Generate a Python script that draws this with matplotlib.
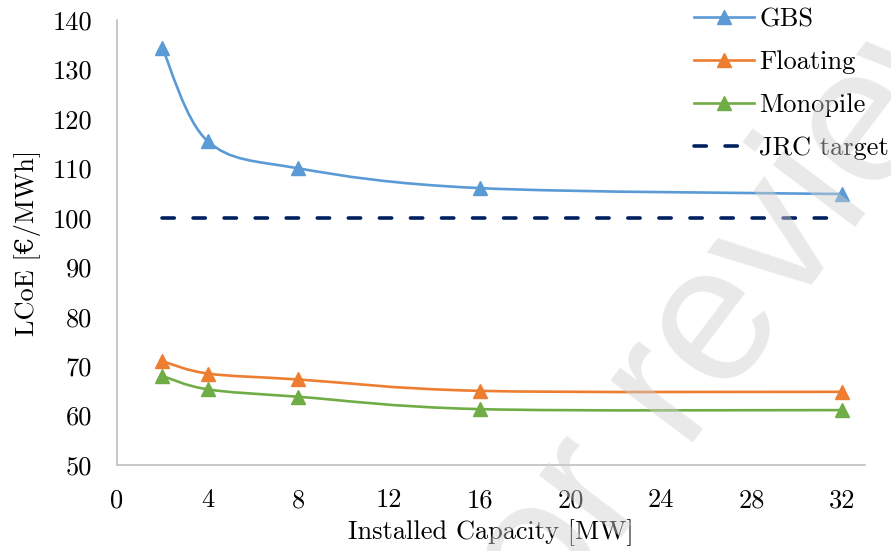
import matplotlib
matplotlib.use("Agg")
import matplotlib.pyplot as plt
from matplotlib.path import Path
from matplotlib.patches import PathPatch
from matplotlib.lines import Line2D
import numpy as np

# Data
capacity = [2, 4, 8, 16, 32]
gbs = [134.3, 115.5, 110.0, 106.0, 104.8]
floating = [71.0, 68.5, 67.3, 65.0, 64.8]
monopile = [68.0, 65.3, 63.8, 61.3, 61.1]
jrc_x = [2, 32]
jrc_target = [100, 100]

series_names = ["GBS", "Floating", "Monopile"]
series_colors = ["#5B9BD5", "#ED7D31", "#70AD47"]
JRC_COLOR = "#002060"
SPINE_COLOR = "#BFBFBF"
FS = 19

plt.rcParams["font.family"] = ["cmr10", "DejaVu Serif"]
plt.rcParams["axes.unicode_minus"] = False


def smooth_path(xs, ys):
    # Excel-like smoothed line: Catmull-Rom segments as cubic Bezier curves
    pts = np.column_stack([xs, ys]).astype(float)
    n = len(pts)
    verts = [pts[0]]
    codes = [Path.MOVETO]
    for i in range(n - 1):
        p0 = pts[i - 1] if i > 0 else pts[i]
        p1 = pts[i]
        p2 = pts[i + 1]
        p3 = pts[i + 2] if i + 2 < n else pts[i + 1]
        c1 = p1 + (p2 - p0) / 6.0
        c2 = p2 - (p3 - p1) / 6.0
        verts += [c1, c2, p2]
        codes += [Path.CURVE4] * 3
    return Path(verts, codes)


fig = plt.figure(figsize=(8.91, 5.51), dpi=100)
ax = fig.add_axes([117 / 891, 1 - 465 / 551, 748 / 891, 445 / 551])

handles = []
for ys, name, col in zip([gbs, floating, monopile], series_names, series_colors):
    ax.add_patch(PathPatch(smooth_path(capacity, ys), fill=False,
                           edgecolor=col, linewidth=1.9, capstyle="round",
                           joinstyle="round", zorder=3))
    ax.plot(capacity, ys, linestyle="none", marker="^", markersize=9.5,
            color=col, zorder=4)
    handles.append(Line2D([], [], color=col, linewidth=1.9, marker="^",
                          markersize=9.5, label=name))

jrc_line, = ax.plot(jrc_x, jrc_target, color=JRC_COLOR, linewidth=2.6,
                    linestyle=(0, (3.4, 5.2)), dash_capstyle="round",
                    label="JRC target", zorder=3)
handles.append(jrc_line)

ax.set_xlim(0, 33)
ax.set_ylim(50, 140)
ax.set_xticks(np.arange(0, 33, 4))
ax.set_yticks(np.arange(50, 141, 10))
ax.tick_params(axis="both", length=0, labelsize=FS, colors="#000000")
ax.tick_params(axis="y", pad=18)
ax.tick_params(axis="x", pad=17)

for side in ["top", "right"]:
    ax.spines[side].set_visible(False)
for side in ["left", "bottom"]:
    ax.spines[side].set_color(SPINE_COLOR)
    ax.spines[side].set_linewidth(1.2)

ax.set_xlabel("Installed Capacity [MW]", fontsize=FS, labelpad=5)
ax.set_ylabel("LCoE [€/MWh]", fontsize=FS, labelpad=8)

fig.legend(handles=handles, loc="upper left",
           bbox_to_anchor=(694 / 891, 1 - 8 / 551), frameon=False,
           fontsize=FS, borderpad=0, borderaxespad=0, handlelength=2.27,
           handletextpad=0.2, labelspacing=0.72)

# Watermark from the source page
fig.text(710 / 891, 1 - 336 / 551, "For review", fontsize=140,
         family="Liberation Sans", color="#cfcfcf", alpha=0.45, rotation=53,
         ha="center", va="center", rotation_mode="anchor", zorder=10)

fig.savefig("out.png", dpi=100)
